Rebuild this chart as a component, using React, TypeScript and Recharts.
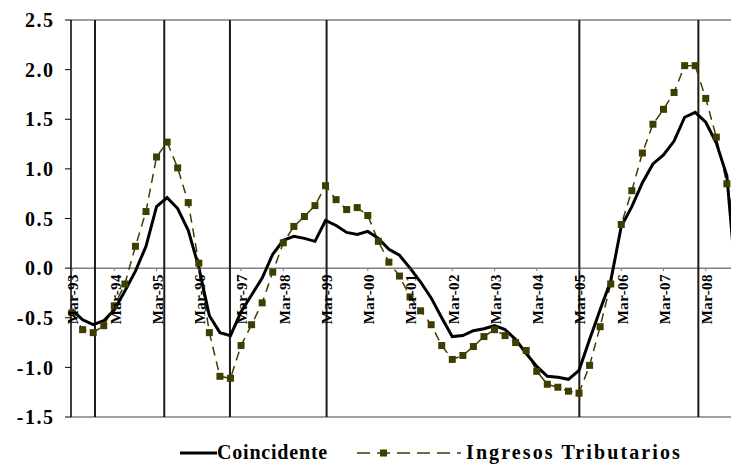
import { LineChart, Line, XAxis, YAxis, ReferenceLine } from 'recharts';

// quarterly series, Mar-93 .. Dec-08 (index 0 = Mar-93)
const coincidente = [
  -0.42, -0.52, -0.57, -0.53, -0.42, -0.23, -0.03, 0.22, 0.62, 0.71, 0.6, 0.38, 0.01, -0.48, -0.65, -0.68,
  -0.44, -0.27, -0.1, 0.14, 0.28, 0.32, 0.3, 0.27, 0.48, 0.43, 0.36, 0.34, 0.37, 0.3, 0.19, 0.13,
  0.0, -0.14, -0.3, -0.5, -0.69, -0.68, -0.63, -0.61, -0.58, -0.62, -0.72, -0.86, -0.99, -1.09, -1.1, -1.12,
  -1.03, -0.72, -0.42, -0.13, 0.42, 0.62, 0.86, 1.05, 1.14, 1.28, 1.52, 1.57, 1.47, 1.26, 0.93, -0.3,
];
const ingresos = [
  -0.45, -0.62, -0.65, -0.58, -0.38, -0.16, 0.22, 0.57, 1.12, 1.27, 1.01, 0.66, 0.05, -0.65, -1.09, -1.11,
  -0.78, -0.57, -0.35, -0.04, 0.255, 0.42, 0.52, 0.63, 0.83, 0.69, 0.59, 0.61, 0.53, 0.27, 0.06, -0.08,
  -0.29, -0.43, -0.57, -0.78, -0.92, -0.88, -0.79, -0.69, -0.62, -0.68, -0.75, -0.83, -1.04, -1.17, -1.2, -1.24,
  -1.26, -0.98, -0.59, -0.16, 0.44, 0.78, 1.16, 1.45, 1.6, 1.77, 2.04, 2.04, 1.71, 1.32, 0.85, 0.3,
];
const tickLabels = [
  'Mar-93', 'Mar-94', 'Mar-95', 'Mar-96', 'Mar-97', 'Mar-98', 'Mar-99', 'Mar-00',
  'Mar-01', 'Mar-02', 'Mar-03', 'Mar-04', 'Mar-05', 'Mar-06', 'Mar-07', 'Mar-08',
];
const tickIdx = tickLabels.map((_, i) => i * 4);
const yTicks = [-1.5, -1.0, -0.5, 0.0, 0.5, 1.0, 1.5, 2.0, 2.5];
// turning points (in quarter units from Mar-93)
const cycleLines = [2.17, 8.73, 14.95, 24.1, 48.03, 59.3];

const Y_MIN = -1.5;
const Y_MAX = 2.5;
const TOP = 20;
const PLOT_H = 397;
const ZERO_SHIFT = (PLOT_H * (0 - Y_MIN)) / (Y_MAX - Y_MIN);

const OLIVE = '#3f3d00';
const FONT = 'Liberation Serif';

const rows = coincidente.map((c, i) => ({ q: i, coin: c, ing: ingresos[i] }));

function QuarterTick(props: any) {
  const { x, y, payload } = props;
  const label = tickLabels[tickIdx.indexOf(payload.value)];
  const y0 = y - ZERO_SHIFT;
  return (
    <g>
      <line x1={x} x2={x} y1={y0} y2={y0 + 3} stroke="#808080" />
      <text
        transform={`translate(${x + 1},${y0 + 6}) rotate(-90)`}
        textAnchor="end"
        dy="0.36em"
        letterSpacing={0.4}
        style={{ fontFamily: FONT, fontWeight: 'bold', fontSize: 15 }}
        fill="#000"
      >
        {label}
      </text>
    </g>
  );
}

function YTick(props: any) {
  const { x, y, payload } = props;
  return (
    <text x={x} y={y} dy="0.36em" textAnchor="end" fill="#000" letterSpacing={1.5}
      style={{ fontFamily: FONT, fontWeight: 'bold', fontSize: 20 }}>
      {payload.value.toFixed(1)}
    </text>
  );
}

function SquareDot({ cx, cy }: any) {
  if (cx == null || cy == null) return null;
  return <rect x={cx - 3.5} y={cy - 3.5} width={7} height={7} fill={OLIVE} />;
}

export default function App() {
  return (
    <div style={{ position: 'absolute', left: 0, top: 0, width: 731, height: 471, overflow: 'hidden', background: '#fff' }}>
      <LineChart width={760} height={471} data={rows} margin={{ top: TOP, right: 12, bottom: 471 - TOP - PLOT_H - 1, left: 0 }}>
        <XAxis
          type="number"
          dataKey="q"
          domain={[-0.1, 64]}
          ticks={tickIdx}
          tick={(p: any) => <QuarterTick {...p} />}
          tickSize={0}
          tickMargin={0}
          height={1}
          axisLine={false}
          tickLine={false}
          interval={0}
        />
        <YAxis
          domain={[Y_MIN, Y_MAX]}
          ticks={yTicks}
          width={71}
          allowDataOverflow
          axisLine={{ stroke: '#000', strokeWidth: 1.5 }}
          tickLine={{ stroke: '#000' }}
          tickSize={6}
          tickMargin={10.5}
          interval={0}
          tick={(p: any) => <YTick {...p} />}
        />
        <ReferenceLine y={Y_MAX} stroke="#808080" strokeWidth={1.5} />
        <ReferenceLine y={Y_MIN} stroke="#808080" strokeWidth={1.5} />
        <ReferenceLine y={0} stroke="#808080" strokeWidth={1.5} />
        {cycleLines.map((v) => (
          <ReferenceLine key={v} x={v} stroke="#1a1a1a" strokeWidth={2} />
        ))}
        <Line
          dataKey="ing"
          stroke={OLIVE}
          strokeWidth={1.5}
          strokeDasharray="9 6"
          dot={<SquareDot />}
          type="linear"
          isAnimationActive={false}
        />
        <Line dataKey="coin" stroke="#000" strokeWidth={3} dot={false} type="linear" isAnimationActive={false} />
      </LineChart>
      <svg width={731} height={40} style={{ position: 'absolute', left: 0, top: 432 }}>
        <line x1={180} x2={217} y1={21} y2={21} stroke="#000" strokeWidth={3} />
        <text x={217} y={27} style={{ fontFamily: FONT, fontWeight: 'bold', fontSize: 20 }} letterSpacing={0.8} fill="#000">
          Coincidente
        </text>
        <line x1={357} x2={461} y1={21} y2={21} stroke={OLIVE} strokeWidth={1.5} strokeDasharray="13 7" />
        <rect x={380} y={17.5} width={7} height={7} fill={OLIVE} />
        <text x={466} y={27} style={{ fontFamily: FONT, fontWeight: 'bold', fontSize: 20 }} letterSpacing={2.1} fill="#000">
          Ingresos Tributarios
        </text>
      </svg>
    </div>
  );
}
